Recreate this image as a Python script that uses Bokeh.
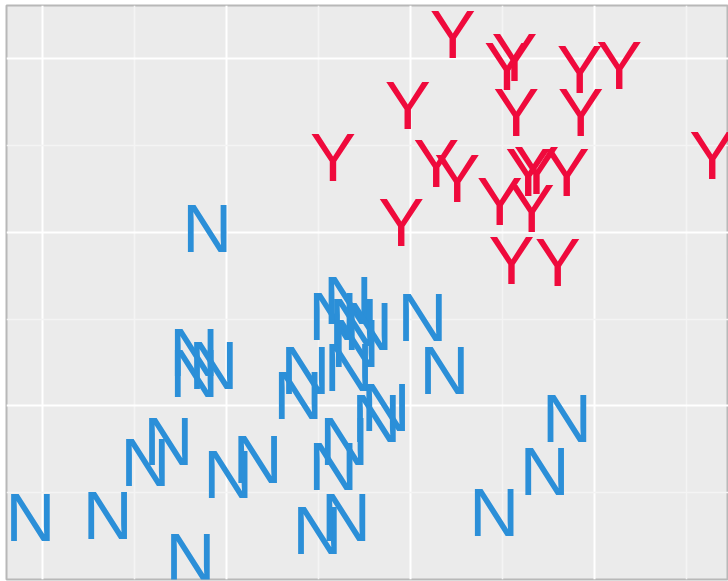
from bokeh.plotting import figure
from bokeh.models import ColumnDataSource, Range1d, FixedTicker
from bokeh.core.properties import value
from bokeh.embed import file_html
from bokeh.resources import INLINE

# Y group (red)
y_x = [6.46, 7.13, 7.05, 7.84, 8.27, 5.97, 7.15, 7.85, 9.28, 5.16,
       6.28, 6.51, 7.28, 7.37, 7.70, 6.97, 7.32, 5.90, 7.10, 7.60]
y_y = [6.28, 6.01, 5.91, 5.88, 5.92, 5.46, 5.38, 5.38, 4.88, 4.86,
       4.79, 4.62, 4.69, 4.71, 4.69, 4.36, 4.28, 4.11, 3.67, 3.65]

# N group (blue)
n_x = [1.87, 2.71, 3.61, 3.12, 3.37, 4.02, 4.34, 3.65, 3.65, 3.86,
       4.78, 4.86, 5.16, 5.32, 5.38, 5.54, 5.40, 5.33, 6.13, 6.37,
       4.99, 5.30, 5.16, 5.28, 5.63, 5.73, 7.70, 7.46, 6.91, 3.79]
n_y = [0.71, 0.74, 0.25, 1.35, 1.59, 1.21, 1.38, 2.62, 2.37, 2.47,
       2.12, 2.41, 3.03, 3.21, 2.96, 2.92, 2.72, 2.44, 3.02, 2.41,
       0.56, 0.72, 1.30, 1.59, 1.85, 1.98, 1.86, 1.24, 0.77, 4.04]

x_major = [2, 4, 6, 8]
x_minor = [3, 5, 7, 9]
y_major = [2, 4, 6]
y_minor = [1, 3, 5]

p = figure(width=728, height=581, output_backend="svg", toolbar_location=None,
           x_range=Range1d(1.61, 9.457), y_range=Range1d(0.0, 6.613),
           min_border_left=6, min_border_right=0, min_border_top=5, min_border_bottom=2)

p.background_fill_color = "#ebebeb"
p.border_fill_color = "white"
p.outline_line_color = "#b8b8b8"
p.outline_line_width = 2

p.xaxis.visible = False
p.yaxis.visible = False
p.xaxis.ticker = FixedTicker(ticks=x_major, minor_ticks=x_minor)
p.yaxis.ticker = FixedTicker(ticks=y_major, minor_ticks=y_minor)
for g in (p.xgrid, p.ygrid):
    g.grid_line_color = "white"
    g.grid_line_width = 2
    g.minor_grid_line_color = "#f4f4f4"
    g.minor_grid_line_width = 1.5

src_n = ColumnDataSource(dict(x=n_x, y=n_y, t=["N"] * len(n_x)))
src_y = ColumnDataSource(dict(x=y_x, y=y_y, t=["Y"] * len(y_x)))

common = dict(text="t", text_align="center", text_baseline="middle",
              text_font=value("Liberation Sans"), text_font_size="69px")
p.text(x="x", y="y", source=src_n, text_color="#2b8fd8", **common)
p.text(x="x", y="y", source=src_y, text_color="#ef0a3c", **common)

open("out.html", "w").write(file_html(p, INLINE))
